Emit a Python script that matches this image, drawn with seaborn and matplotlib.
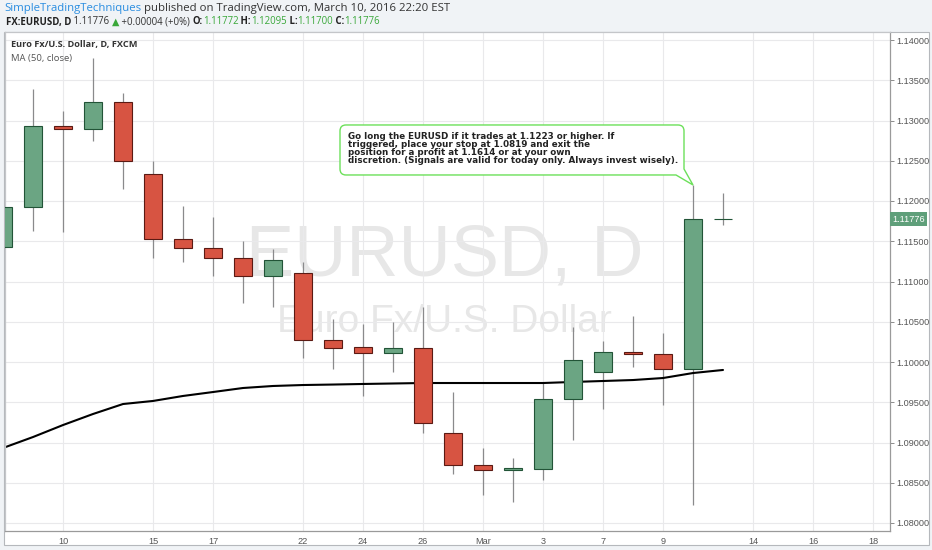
import numpy as np
import pandas as pd
import matplotlib
matplotlib.use('Agg')
import matplotlib.pyplot as plt
import seaborn as sns
from matplotlib.patches import Rectangle, PathPatch
from matplotlib.path import Path
from matplotlib.transforms import IdentityTransform, blended_transform_factory

# --- data: EURUSD daily candles (FXCM) ---
dates = ['2016-02-08', '2016-02-09', '2016-02-10', '2016-02-11', '2016-02-12',
         '2016-02-15', '2016-02-16', '2016-02-17', '2016-02-18', '2016-02-19',
         '2016-02-22', '2016-02-23', '2016-02-24', '2016-02-25', '2016-02-26',
         '2016-02-29', '2016-03-01', '2016-03-02', '2016-03-03', '2016-03-04',
         '2016-03-07', '2016-03-08', '2016-03-09', '2016-03-10', '2016-03-11']
opens = [1.11429, 1.11925, 1.12932, 1.12894, 1.13230, 1.12335, 1.11528, 1.11416, 1.11292, 1.11068,
         1.11106, 1.10273, 1.10186, 1.10112, 1.10174, 1.09118, 1.08720, 1.08658, 1.08671, 1.09540,
         1.09876, 1.10124, 1.10099, 1.09913, 1.11772]
highs = [1.12050, 1.13391, 1.13118, 1.13776, 1.13342, 1.12497, 1.11938, 1.11801, 1.11503, 1.11404,
         1.11242, 1.10534, 1.10472, 1.10497, 1.10683, 1.09627, 1.08932, 1.08807, 1.09739, 1.10435,
         1.10261, 1.10571, 1.10360, 1.12199, 1.12095]
lows = [1.11100, 1.11627, 1.11615, 1.12745, 1.12149, 1.11292, 1.11242, 1.11068, 1.10733, 1.10683,
        1.10050, 1.09913, 1.09578, 1.09876, 1.09118, 1.08609, 1.08348, 1.08261, 1.08534, 1.09031,
        1.09416, 1.09938, 1.09466, 1.08224, 1.11700]
closes = [1.11925, 1.12932, 1.12894, 1.13230, 1.12497, 1.11528, 1.11416, 1.11292, 1.11068, 1.11267,
          1.10273, 1.10174, 1.10112, 1.10174, 1.09242, 1.08720, 1.08658, 1.08683, 1.09540, 1.10025,
          1.10124, 1.10099, 1.09913, 1.11772, 1.11776]
ma50 = [1.08932, 1.09068, 1.09217, 1.09354, 1.09478, 1.09516, 1.09578, 1.09627, 1.09677, 1.09702,
        1.09714, 1.09720, 1.09727, 1.09733, 1.09739, 1.09739, 1.09739, 1.09739, 1.09739, 1.09752,
        1.09764, 1.09776, 1.09801, 1.09863, 1.09901]

tick_dates = ['2016-02-10', '2016-02-15', '2016-02-17', '2016-02-22', '2016-02-24', '2016-02-26',
              '2016-03-01', '2016-03-03', '2016-03-07', '2016-03-09', '2016-03-14', '2016-03-16',
              '2016-03-18']
tick_labels = ['10', '15', '17', '22', '24', '26', 'Mar', '3', '7', '9', '14', '16', '18']
price_ticks = [1.08, 1.085, 1.09, 1.095, 1.10, 1.105, 1.11, 1.115, 1.12, 1.125, 1.13, 1.135, 1.14]
last_price = 1.11776

note = ("Go long the EURUSD if it trades at 1.1223 or higher. If\n"
        "triggered, place your stop at 1.0819 and exit the\n"
        "position for a profit at 1.1614 or at your own\n"
        "discretion. (Signals are valid for today only. Always invest wisely).")

# trading-day axis (weekends skipped)
calendar = pd.bdate_range('2016-02-08', '2016-03-18').strftime('%Y-%m-%d').tolist()
xpos = np.array([calendar.index(d) for d in dates])
tick_pos = [calendar.index(d) for d in tick_dates]

df = pd.DataFrame({'x': xpos, 'open': opens, 'high': highs, 'low': lows,
                   'close': closes, 'ma': ma50})
df['up'] = df['close'] >= df['open']

W, H = 932, 550
UP_FILL, UP_EDGE = '#6ba583', '#225437'
DN_FILL, DN_EDGE = '#d75442', '#5b1a13'

sns.set_style('white')
plt.rcParams['font.family'] = ['Liberation Sans', 'DejaVu Sans']


def px(x, y):
    return x / W, 1 - y / H


fig = plt.figure(figsize=(W / 100, H / 100), dpi=100, facecolor='#f0f3f6')
fig.patches.append(Rectangle(px(4, 545), 925 / W, 513 / H, transform=fig.transFigure,
                             facecolor='white', edgecolor='#b5b8bc', lw=0.8, zorder=-1))
ax = fig.add_axes([5 / W, 19 / H, 885 / W, 499 / H])
ax.set_facecolor('white')
ax.set_axisbelow(True)

# wicks, moving average, bodies
ax.vlines(df['x'], df['low'], df['high'], color='#8a8a8c', lw=0.9, zorder=2)
sns.lineplot(data=df, x='x', y='ma', ax=ax, color='black', lw=1.5, zorder=2.5)
body_bottom = df[['open', 'close']].min(axis=1)
body_height = (df['close'] - df['open']).abs()
ax.bar(df['x'], body_height, bottom=body_bottom, width=0.6,
       color=np.where(df['up'], UP_FILL, DN_FILL),
       edgecolor=np.where(df['up'], UP_EDGE, DN_EDGE), lw=0.8, zorder=3)

ax.set_xlim((5 - 3) / 30, (890 - 3) / 30)
ax.set_ylim(1.14 - (531 - 40) / 8050, 1.14 + 8 / 8050)
ax.set_xlabel('')
ax.set_ylabel('')

ax.set_xticks(tick_pos)
ax.set_xticklabels(tick_labels)
ax.set_yticks(price_ticks)
ax.yaxis.set_major_formatter(matplotlib.ticker.FormatStrFormatter('%.5f'))
ax.yaxis.tick_right()
ax.grid(True, color='#e9e9eb', lw=0.8)
ax.tick_params(axis='both', direction='out', length=3, width=0.7, color='#8c8c8c',
               labelsize=6.6, labelcolor='#555555')
ax.tick_params(axis='y', pad=1.5)
ax.tick_params(axis='x', pad=1.5)
for side in ['left', 'top', 'right', 'bottom']:
    ax.spines[side].set_color('#9a9a9a')
    ax.spines[side].set_linewidth(0.9)
for side in ['left', 'top']:
    ax.spines[side].set_color('#c4c6c9')

# last price marker on the price scale
ax.text(1.0025, last_price, f'{last_price:.5f}', transform=blended_transform_factory(ax.transAxes, ax.transData),
        ha='left', va='center', fontsize=6.6, color='white', zorder=6, clip_on=False,
        bbox=dict(boxstyle='square,pad=0.25', fc='#5f9f7a', ec='none'))

# watermark
ax.text(0.497, 0.549, 'EURUSD, D', transform=ax.transAxes, ha='center', va='center',
        fontsize=52, color='#e7e7e7', zorder=0.4)
ax.text(0.497, 0.419, 'Euro Fx/U.S. Dollar', transform=ax.transAxes, ha='center', va='center',
        fontsize=28, color='#e7e7e7', zorder=0.4)

# series legend
fig.text(*px(11, 45), 'Euro Fx/U.S. Dollar, D, FXCM', ha='left', va='center', fontsize=6.6,
         fontweight='bold', color='#333333', family=['Open Sans', 'DejaVu Sans'])
fig.text(*px(11, 59), 'MA (50, close)', ha='left', va='center', fontsize=6.8,
         color='#555555', family=['Open Sans', 'DejaVu Sans'])

# header lines made of coloured pieces
renderer = fig.canvas.get_renderer()


def draw_pieces(x, y, pieces, size):
    for text, color, weight in pieces:
        t = fig.text(*px(x, y), text, ha='left', va='center', fontsize=size, color=color,
                     fontweight=weight, family=['Open Sans', 'DejaVu Sans'])
        x += t.get_window_extent(renderer).width


GREEN = '#3aa83a'
draw_pieces(4, 8, [('SimpleTradingTechniques', '#2a8de0', 'normal'),
                   (' published on TradingView.com, March 10, 2016 22:20 EST', '#333333', 'normal')],
            8.2)
draw_pieces(6, 22, [('FX:EURUSD, D', '#222222', 'bold'), (' 1.11776 ', '#333333', 'normal'),
                    ('\u25b2', GREEN, 'normal'), (' +0.00004 (+0%) ', '#333333', 'normal'),
                    ('O:', '#222222', 'bold'), ('1.11772', GREEN, 'normal'),
                    (' H:', '#222222', 'bold'), ('1.12095', GREEN, 'normal'),
                    (' L:', '#222222', 'bold'), ('1.11700', GREEN, 'normal'),
                    (' C:', '#222222', 'bold'), ('1.11776', GREEN, 'normal')],
            6.9)

# speech-bubble note pointing at the Mar 10 high
tip = ax.transData.transform((xpos[23], highs[23]))
L, R, T, B, r = -353, -9, -60, -10, 6


def p(dx, dy):
    return (tip[0] + dx, tip[1] - dy)


verts = [p(L + r, T), p(R - r, T), p(R, T), p(R, T + r), p(R, -16), p(0, 0), p(-17, B),
         p(L + r, B), p(L, B), p(L, B - r), p(L, T + r), p(L, T), p(L + r, T), p(L + r, T)]
codes = [Path.MOVETO, Path.LINETO, Path.CURVE3, Path.CURVE3, Path.LINETO, Path.LINETO, Path.LINETO,
         Path.LINETO, Path.CURVE3, Path.CURVE3, Path.LINETO, Path.CURVE3, Path.CURVE3, Path.CLOSEPOLY]
fig.patches.append(PathPatch(Path(verts, codes), transform=IdentityTransform(), facecolor='white',
                             edgecolor='#6ce05a', lw=1.0, zorder=5))
tx, ty = p(L + 8, T + 7)
fig.text(tx / W, ty / H, note, ha='left', va='top', fontsize=6.3, fontweight='bold',
         color='#222222', family='DejaVu Sans', linespacing=0.88, zorder=6)

fig.savefig('out.png', dpi=100, facecolor=fig.get_facecolor())
